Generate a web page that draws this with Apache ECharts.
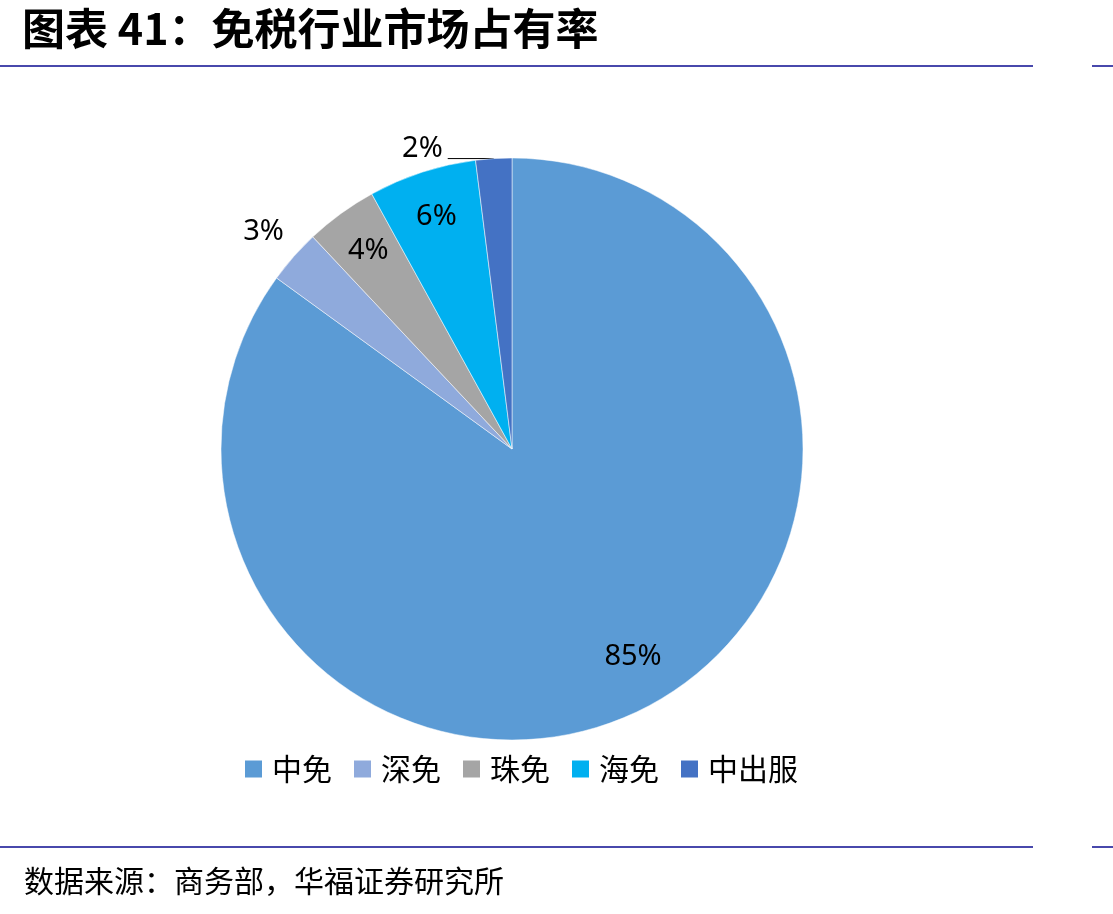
<!DOCTYPE html>
<html>
<head>
<meta charset="utf-8">
<script src="https://cdn.jsdelivr.net/npm/echarts@6/dist/echarts.min.js"></script>
<style>
  html, body { margin: 0; padding: 0; background: #fff; }
  #main { width: 1113px; height: 914px; }
</style>
</head>
<body>
<div id="main"></div>
<script>
const names = ['中免', '深免', '珠免', '海免', '中出服'];
const shares = [85, 3, 4, 6, 2];
const colors = ['#5B9BD5', '#8FAADC', '#A5A5A5', '#00B0F0', '#4472C4'];
// 放在扇区外面的标签
const outsideNames = ['深免', '中出服'];

const CX = 512, CY = 449, R = 291;
const lineColor = '#4848AC';

let chart = echarts.init(document.getElementById('main'));

// 外部标签的引导线设置
function outsideLabel(name) {
    if (name === '深免') {
        return {
            label: { show: true, position: 'outside' },
            labelLine: { show: false, length: 37, length2: -23 }
        };
    }
    return {
        label: { show: true, position: 'outside' },
        labelLine: { show: true, length: 0, length2: 46 }
    };
}

let mainData = names.map(function(n, i) {
    let item = { name: n, value: shares[i], itemStyle: { color: colors[i] } };
    if (outsideNames.indexOf(n) >= 0) {
        Object.assign(item, outsideLabel(n));
    } else {
        item.label = { show: false };
        item.labelLine = { show: false };
    }
    return item;
});

// 透明的一层，用来把内部标签放到靠外的位置
let labelData = names.map(function(n, i) {
    return {
        name: n,
        value: shares[i],
        label: { show: outsideNames.indexOf(n) < 0 }
    };
});

const labelFont = {
    fontFamily: 'Noto Sans',
    fontSize: 29,
    color: '#000'
};

let option = {
    animation: false,
    legend: {
        data: names,
        left: 238,
        top: 749,
        itemWidth: 19,
        itemHeight: 19,
        itemGap: 20,
        icon: 'rect',
        textStyle: {
            fontFamily: 'Noto Sans CJK SC',
            fontSize: 30,
            color: '#000',
            padding: [0, 0, 0, 4]
        }
    },
    series: [{
        name: '市场占有率',
        type: 'pie',
        center: [CX, CY],
        radius: [0, R],
        startAngle: 90,
        clockwise: true,
        avoidLabelOverlap: false,
        silent: true,
        itemStyle: { borderColor: '#fff', borderWidth: 0.5 },
        label: Object.assign({ formatter: '{c}%', distanceToLabelLine: 5 }, labelFont),
        labelLine: {
            smooth: false,
            lineStyle: { color: '#000', width: 1 }
        },
        labelLayout: function(params) {
            // 2% 的文字在引导线上方
            if (params.dataIndex === 4) {
                return { dy: -10 };
            }
            return {};
        },
        data: mainData
    }, {
        name: '标签',
        type: 'pie',
        center: [CX, CY],
        radius: [R * 0.66, R],
        startAngle: 90,
        clockwise: true,
        silent: true,
        itemStyle: { color: 'rgba(0,0,0,0)' },
        label: Object.assign({ position: 'inside', formatter: '{c}%' }, labelFont),
        labelLine: { show: false },
        labelLayout: function(params) {
            // 大扇区的标签略往右上
            if (params.dataIndex === 0) {
                return { dx: 10, dy: -10 };
            }
            return {};
        },
        data: labelData
    }],
    graphic: [
        {
            type: 'text', left: 22, top: 7,
            style: {
                text: '图表 41：免税行业市场占有率',
                fontFamily: 'Noto Sans CJK SC',
                fontWeight: 'bold',
                fontSize: 43,
                fill: '#000'
            }
        },
        { type: 'line', shape: { x1: 0, y1: 66, x2: 1033, y2: 66 }, style: { stroke: lineColor, lineWidth: 2 } },
        { type: 'line', shape: { x1: 1092, y1: 66, x2: 1113, y2: 66 }, style: { stroke: lineColor, lineWidth: 2 } },
        { type: 'line', shape: { x1: 0, y1: 847, x2: 1033, y2: 847 }, style: { stroke: lineColor, lineWidth: 2 } },
        { type: 'line', shape: { x1: 1092, y1: 847, x2: 1113, y2: 847 }, style: { stroke: lineColor, lineWidth: 2 } },
        {
            type: 'text', left: 24, top: 866,
            style: {
                text: '数据来源：商务部，华福证券研究所',
                fontFamily: 'Noto Sans CJK SC',
                fontSize: 30,
                fill: '#000'
            }
        }
    ]
};

chart.setOption(option);
</script>
</body>
</html>
